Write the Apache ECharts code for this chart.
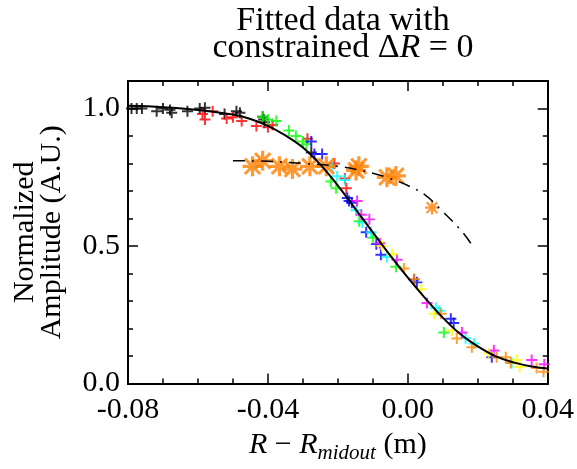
<!DOCTYPE html>
<html>
<head>
<meta charset="utf-8">
<script src="https://cdn.jsdelivr.net/npm/echarts@6/dist/echarts.min.js"></script>
<style>
  html, body { margin: 0; padding: 0; background: #fff; }
  #main { width: 577px; height: 469px; }
</style>
</head>
<body>
<div id="main"></div>
<script>
// measured points, one list per colour [x (m), normalized amplitude]
var blackPts = [[-0.079,1.0],[-0.0775,1.0],[-0.076,1.0],[-0.0718,0.99],[-0.070,1.0],[-0.068,0.995],
    [-0.0675,0.985],[-0.063,0.99],[-0.0595,1.0],[-0.058,1.003],[-0.0524,0.98],[-0.049,0.99],
    [-0.048,0.985],[-0.0415,0.97],[-0.0412,0.96],[-0.041,0.95],[-0.0276,0.84]];
var redPts = [[-0.0587,0.98],[-0.058,0.96],[-0.0558,0.99],[-0.0518,0.964],[-0.050,0.968],[-0.0475,0.955],
    [-0.0433,0.936],[-0.040,0.932],[-0.0387,0.94],[-0.0287,0.89],[-0.021,0.80],[-0.018,0.746],[-0.0176,0.71]];
var greenPts = [[-0.0415,0.97],[-0.040,0.96],[-0.0376,0.955],[-0.034,0.92],[-0.032,0.90],[-0.030,0.88],
    [-0.029,0.87],[-0.022,0.735],[-0.0205,0.71],[-0.0139,0.59],[-0.010,0.53],[-0.0034,0.425],[0.0103,0.186]];
var bluePts = [[-0.0276,0.88],[-0.0267,0.835],[-0.0245,0.835],[-0.0173,0.675],[-0.016,0.657],[-0.0168,0.664],
    [-0.0119,0.55],[-0.009,0.507],[-0.0077,0.468],[0.0018,0.378],[0.0026,0.368],[0.0123,0.236],
    [0.0131,0.22],[0.024,0.096]];
var cyanPts = [[-0.0216,0.79],[-0.0202,0.754],[-0.018,0.74],[-0.0148,0.63],[-0.013,0.586],[-0.0105,0.55],
    [-0.006,0.46],[0.008,0.275],[0.009,0.265],[0.0165,0.165],[0.0189,0.146],[0.0297,0.075]];
var magentaPts = [[-0.0145,0.664],[-0.0133,0.614],[-0.011,0.597],[-0.008,0.51],[-0.0031,0.45],[0.0055,0.293],
    [0.0155,0.186],[0.0246,0.12],[0.0354,0.086],[0.039,0.07]];
var yellowPts = [[-0.0074,0.50],[-0.0045,0.47],[0.0038,0.343],[0.0075,0.254],[0.0126,0.193],[0.0231,0.11],
    [0.0311,0.086],[0.032,0.06]];
var orangePts = [[-0.0011,0.418],[0.0018,0.38],[0.0095,0.254],[0.014,0.164],[0.0183,0.132],[0.0254,0.096],
    [0.028,0.096],[0.0294,0.075],[0.0368,0.057],[0.0388,0.043]];
// second data set (asterisks)
var starPts = [[-0.0444,0.79],[-0.0415,0.81],[-0.0367,0.79],[-0.033,0.78],[-0.028,0.79],[-0.0233,0.79],
    [-0.0148,0.775],[-0.014,0.79],[-0.006,0.75],[-0.0034,0.755]];
var starSmall = [[0.0069,0.64]];
// fitted curves
var fitSolid = [[-0.080,1.01],[-0.070,1.005],[-0.060,0.995],[-0.050,0.978],[-0.045,0.962],[-0.040,0.937],
    [-0.035,0.902],[-0.030,0.858],[-0.025,0.796],[-0.020,0.72],[-0.015,0.635],[-0.010,0.55],[-0.005,0.465],
    [0.000,0.385],[0.005,0.31],[0.010,0.24],[0.015,0.18],[0.020,0.135],[0.025,0.10],[0.030,0.078],
    [0.035,0.063],[0.040,0.055]];
var fitDashDot = [[-0.050,0.81],[-0.040,0.808],[-0.030,0.80],[-0.020,0.79],[-0.010,0.765],[-0.005,0.745],
    [0.000,0.72],[0.005,0.685],[0.010,0.625],[0.015,0.56],[0.018,0.51]];

var FONT = 'Liberation Serif';
var PLUS = 'path://M0,4.1H10V5.9H0Z M4.1,0H5.9V10H4.1Z';
var STAR = 'path://M0,4.2H10V5.8H0Z M4.2,0H5.8V10H4.2Z M0.6,1.7L1.7,0.6L9.4,8.3L8.3,9.4Z M8.3,0.6L9.4,1.7L1.7,9.4L0.6,8.3Z';

function plusSeries(pts, color) {
    return {
        type: 'scatter', data: pts, symbol: PLUS, symbolSize: 11,
        itemStyle: { color: color }, z: 2
    };
}

// one axis for major ticks (+labels), one for minor ticks, per side
function axisSide(kind, pos, min, max, step, len, label) {
    var a = {
        type: 'value', min: min, max: max, interval: step, position: pos,
        axisLine: { show: true, onZero: false, lineStyle: { color: '#000', width: 2 } },
        axisTick: { show: true, inside: true, length: len, lineStyle: { color: '#000', width: 1.5 } },
        splitLine: { show: false },
        axisLabel: { show: false }
    };
    if (label) a.axisLabel = label;
    return a;
}

var xLabel = { fontFamily: FONT, fontSize: 30, color: '#000', margin: 12,
    formatter: function (v) { return v.toFixed(2); } };
var yLabel = { fontFamily: FONT, fontSize: 30, color: '#000', margin: 8,
    formatter: function (v) { return v.toFixed(1); } };

var xMain = axisSide('x', 'bottom', -0.08, 0.04, 0.04, 10, xLabel);
xMain.name = '{i|R} − {i|R}{s|midout} (m)';
xMain.nameLocation = 'middle';
xMain.nameGap = 38;
xMain.nameTextStyle = { fontFamily: FONT, fontSize: 30, color: '#000',
    rich: { i: { fontFamily: FONT, fontStyle: 'italic', fontSize: 30 },
            s: { fontFamily: FONT, fontStyle: 'italic', fontSize: 21, padding: [16, 0, 0, 0] } } };

var yMain = axisSide('y', 'left', 0, 1.1, 0.5, 10, yLabel);
yMain.name = 'Normalized\nAmplitude (A.U.)';
yMain.nameLocation = 'middle';
yMain.nameRotate = 90;
yMain.nameGap = 62;
yMain.nameTextStyle = { fontFamily: FONT, fontSize: 30, color: '#000', lineHeight: 27 };

var chart = echarts.init(document.getElementById('main'));
var option = {
    backgroundColor: '#fff',
    animation: false,
    title: {
        text: 'Fitted data with\nconstrained Δ{i|R} = 0',
        left: 338, top: 3, textAlign: 'center',
        textStyle: {
            fontFamily: FONT, fontSize: 34, fontWeight: 'normal', color: '#000', lineHeight: 27,
            rich: { i: { fontFamily: FONT, fontStyle: 'italic', fontSize: 34, lineHeight: 27 } }
        }
    },
    grid: { left: 128, right: 28, top: 81, bottom: 80 },
    xAxis: [
        xMain,
        axisSide('x', 'bottom', -0.08, 0.04, 0.01, 5),
        axisSide('x', 'top', -0.08, 0.04, 0.04, 10),
        axisSide('x', 'top', -0.08, 0.04, 0.01, 5)
    ],
    yAxis: [
        yMain,
        axisSide('y', 'left', 0, 1.1, 0.1, 5),
        axisSide('y', 'right', 0, 1.1, 0.5, 10),
        axisSide('y', 'right', 0, 1.1, 0.1, 5)
    ],
    series: [
        plusSeries(blackPts, '#000000'),
        plusSeries(redPts, '#ff0000'),
        plusSeries(greenPts, '#00ff00'),
        plusSeries(bluePts, '#0000ff'),
        plusSeries(cyanPts, '#00ffff'),
        plusSeries(magentaPts, '#ff00ff'),
        plusSeries(yellowPts, '#ffff00'),
        plusSeries(orangePts, '#ff8800'),
        { type: 'scatter', data: starPts, symbol: STAR, symbolSize: 20, itemStyle: { color: '#ff8000' }, z: 2 },
        { type: 'scatter', data: starSmall, symbol: STAR, symbolSize: 14, itemStyle: { color: '#ff8000' }, z: 2 },
        { type: 'line', data: fitSolid, smooth: 0.4, symbol: 'none', z: 3,
          lineStyle: { color: '#000', width: 2 } },
        { type: 'line', data: fitDashDot, smooth: 0.4, symbol: 'none', z: 3,
          lineStyle: { color: '#000', width: 1.5, type: [12, 7, 2, 7] } }
    ]
};
chart.setOption(option);
</script>
</body>
</html>
